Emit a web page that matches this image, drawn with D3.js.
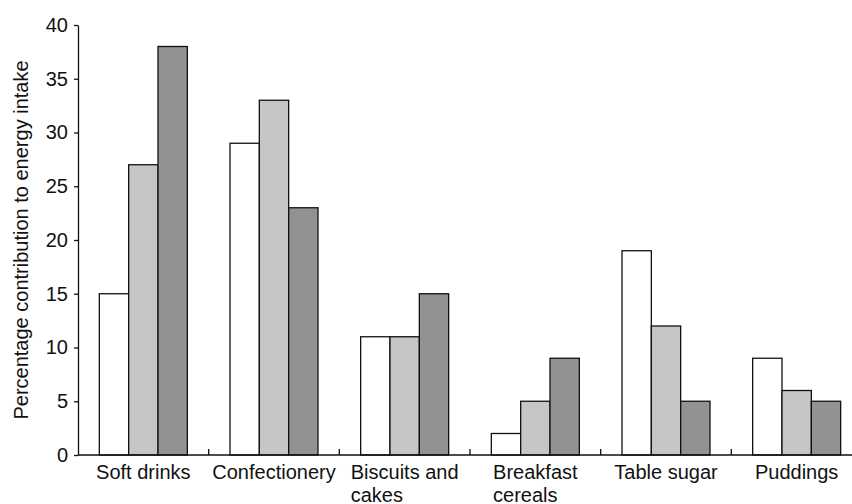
<!DOCTYPE html>
<html>
<head>
<meta charset="utf-8">
<script src="https://cdn.jsdelivr.net/npm/d3@7"></script>
<style>
  html, body { margin: 0; padding: 0; background: #fff; }
  svg { display: block; }
  text { font-family: "Liberation Sans", Arial, Helvetica, sans-serif; fill: #111; }
</style>
</head>
<body>
<svg id="chart" width="852" height="504"></svg>
<script>
const categories = ["Soft drinks", "Confectionery", "Biscuits and\ncakes", "Breakfast\ncereals", "Table sugar", "Puddings"];
const seriesNames = ["Group 1", "Group 2", "Group 3"];
const seriesColors = ["#ffffff", "#c6c6c6", "#929292"];
const group1 = [15, 29, 11, 2, 19, 9];
const group2 = [27, 33, 11, 5, 12, 6];
const group3 = [38, 23, 15, 9, 5, 5];
const yTicks = [0, 5, 10, 15, 20, 25, 30, 35, 40];
const yTitle = "Percentage contribution to energy intake";

const seriesValues = [group1, group2, group3];
const svg = d3.select("#chart");

const x = d3.scaleBand().domain(categories).range([78, 862]).paddingInner(0).paddingOuter(0);
const xSub = d3.scaleBand().domain(seriesNames).range([0, x.bandwidth()]).paddingInner(0).paddingOuter(0.727);
const y = d3.scaleLinear().domain([0, 40]).range([455, 25]);

// bars
const rows = categories.map((c, i) => ({ cat: c, vals: seriesNames.map((s, j) => ({ s, j, v: seriesValues[j][i] })) }));
const g = svg.append("g");
g.selectAll("g.cat").data(rows).join("g")
  .attr("class", "cat")
  .attr("transform", d => `translate(${x(d.cat)},0)`)
  .selectAll("rect").data(d => d.vals).join("rect")
  .attr("x", d => xSub(d.s))
  .attr("width", xSub.bandwidth())
  .attr("y", d => y(d.v))
  .attr("height", d => y(0) - y(d.v))
  .attr("fill", d => seriesColors[d.j])
  .attr("stroke", "#111")
  .attr("stroke-width", 1.3);

// y axis
const yAxis = svg.append("g")
  .attr("transform", "translate(78,0)")
  .call(d3.axisLeft(y).tickValues(yTicks).tickSize(4).tickSizeOuter(0).tickPadding(6));
yAxis.selectAll("path, line").attr("stroke", "#111").attr("stroke-width", 1.3);
yAxis.selectAll("text").attr("font-size", 20).attr("font-family", "Liberation Sans, Arial, sans-serif").attr("fill", "#111");

// x axis line
svg.append("line")
  .attr("x1", 78).attr("x2", 852)
  .attr("y1", y(0)).attr("y2", y(0))
  .attr("stroke", "#111").attr("stroke-width", 1.3);

// boundary ticks (inward)
svg.selectAll("line.bt").data(categories.slice(1)).join("line")
  .attr("class", "bt")
  .attr("x1", d => x(d)).attr("x2", d => x(d))
  .attr("y1", y(0)).attr("y2", y(0) - 6)
  .attr("stroke", "#111").attr("stroke-width", 1.3);

// category labels: block centered, lines left-aligned
categories.forEach(c => {
  const lines = c.split("\n");
  const t = svg.append("text").attr("font-size", 20);
  lines.forEach((ln, k) => {
    t.append("tspan").attr("x", 0).attr("y", 479 + k * 23).text(ln);
  });
  let w = 0;
  t.selectAll("tspan").each(function() { w = Math.max(w, this.getComputedTextLength()); });
  const cx = x(c) + x.bandwidth() / 2;
  t.attr("transform", `translate(${cx - w / 2},0)`);
});

// y title
svg.append("text")
  .attr("transform", "translate(28,240) rotate(-90)")
  .attr("text-anchor", "middle")
  .attr("font-size", 20)
  .text(yTitle);
</script>
</body>
</html>
